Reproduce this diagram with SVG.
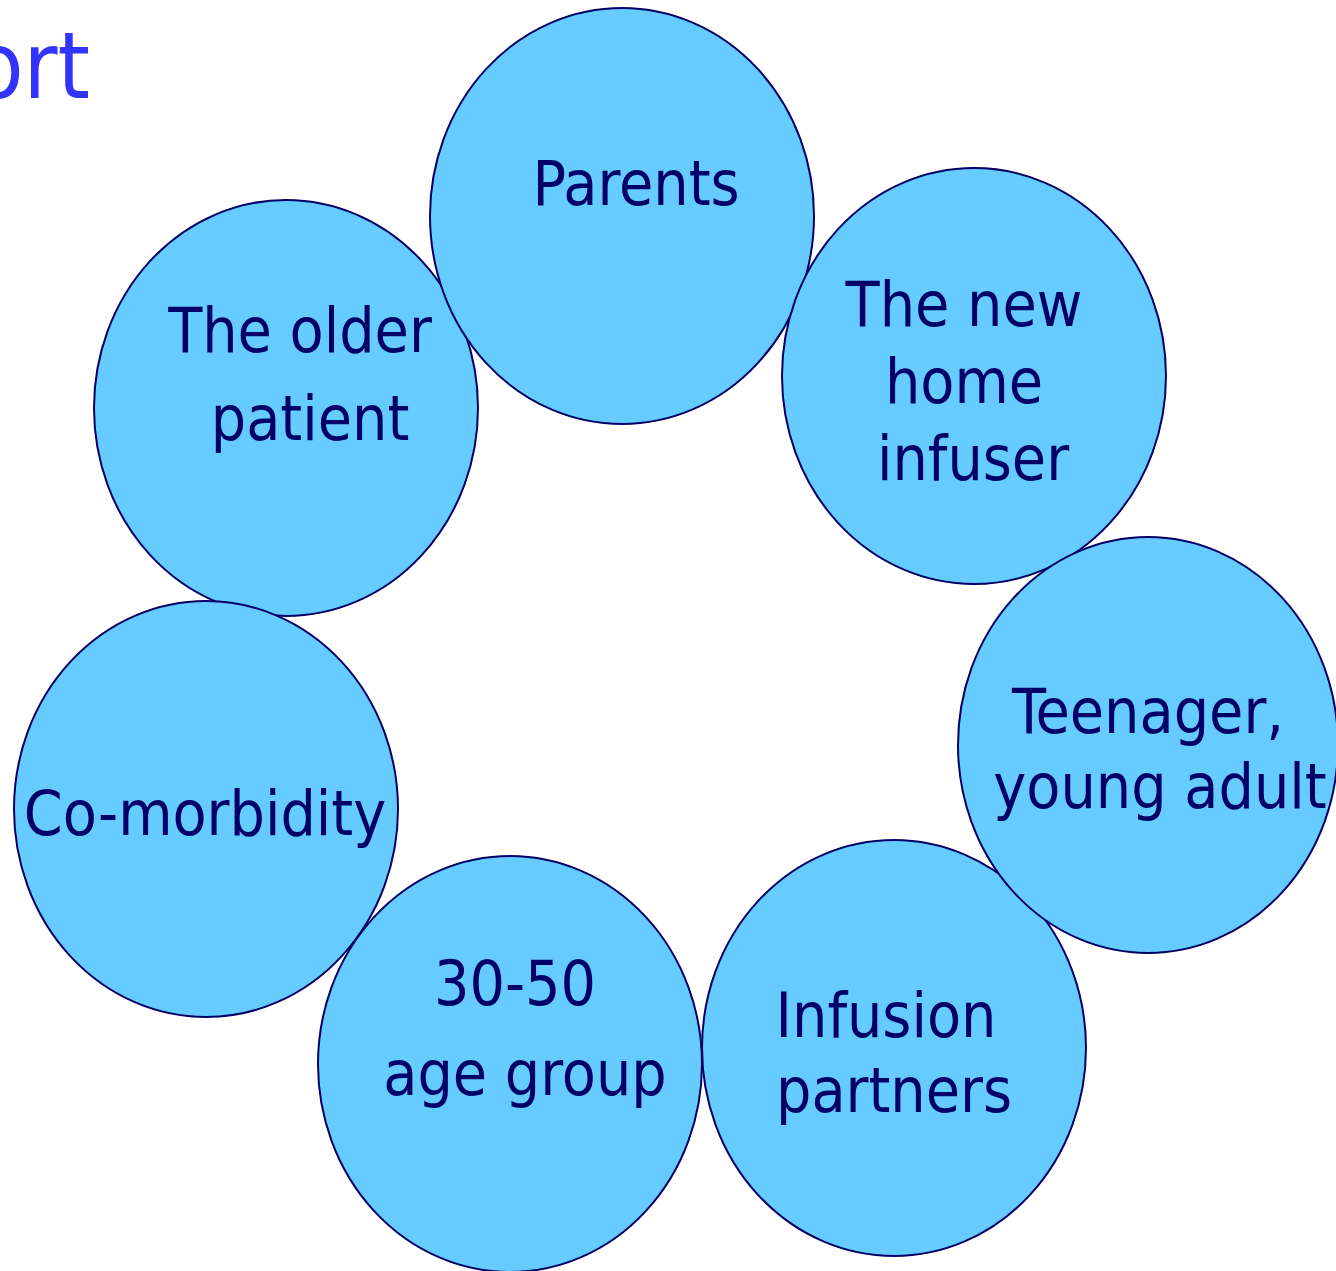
<svg xmlns="http://www.w3.org/2000/svg" width="1336" height="1271" viewBox="0 0 1336 1271">
  <style>
    .bubble { fill: #66CCFF; stroke: #000066; stroke-width: 2; }
    .label { font-family: "DejaVu Sans Condensed", "DejaVu Sans", sans-serif; font-size: 62px; fill: #000066; text-anchor: middle; }
    .title { font-family: "DejaVu Sans Condensed", "DejaVu Sans", sans-serif; font-size: 92px; fill: #3333FF; text-anchor: end; }
  </style>
  <rect width="1336" height="1271" fill="#FFFFFF"/>
  <text class="title" x="90" y="98">ort</text>
  <g id="connectors"/>
  <g id="node-older-patient">
    <ellipse class="bubble" cx="286" cy="408" rx="192" ry="208"/>
    <text class="label" x="300" y="352">The older</text>
    <text class="label" x="310" y="440">patient</text>
  </g>
  <g id="node-parents">
    <ellipse class="bubble" cx="622" cy="216" rx="192" ry="208"/>
    <text class="label" x="636" y="205">Parents</text>
  </g>
  <g id="node-new-home-infuser">
    <ellipse class="bubble" cx="974" cy="376" rx="192" ry="208"/>
    <text class="label" x="964" y="326">The new</text>
    <text class="label" x="964" y="403">home</text>
    <text class="label" x="973" y="480">infuser</text>
  </g>
  <g id="node-infusion-partners">
    <ellipse class="bubble" cx="894" cy="1048" rx="192" ry="208"/>
    <text class="label" x="886" y="1037">Infusion</text>
    <text class="label" x="894" y="1112">partners</text>
  </g>
  <g id="node-teenager">
    <ellipse class="bubble" cx="1148" cy="745" rx="190" ry="208"/>
    <text class="label" x="1148" y="733">Teenager,</text>
    <text class="label" x="1160" y="808">young adult</text>
  </g>
  <g id="node-comorbidity">
    <ellipse class="bubble" cx="206" cy="809" rx="192" ry="208"/>
    <text class="label" x="205" y="835">Co-morbidity</text>
  </g>
  <g id="node-age-group">
    <ellipse class="bubble" cx="510" cy="1064" rx="192" ry="208"/>
    <text class="label" x="515" y="1005">30-50</text>
    <text class="label" x="525" y="1095">age group</text>
  </g>
</svg>
